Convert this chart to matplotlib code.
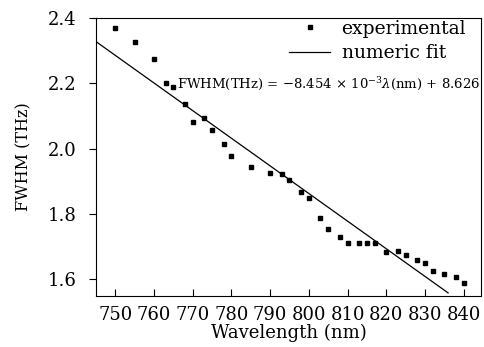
import numpy as np
from matplotlib import pyplot as plt

plt.rcParams['font.family'] = 'DejaVu Serif'
plt.rcParams['mathtext.fontset'] = 'dejavuserif'

wavelength = [750, 755, 760, 763, 765, 768, 770, 773, 775, 778, 780, 785,
              790, 793, 795, 798, 800, 803, 805, 808, 810, 813, 815, 817,
              820, 823, 825, 828, 830, 832, 835, 838, 840]
fwhm = [2.368, 2.327, 2.274, 2.200, 2.190, 2.136, 2.083, 2.093, 2.057, 2.014,
        1.979, 1.945, 1.927, 1.922, 1.903, 1.867, 1.850, 1.789, 1.754, 1.729,
        1.710, 1.710, 1.710, 1.710, 1.685, 1.687, 1.676, 1.659, 1.650, 1.625,
        1.616, 1.607, 1.590]

slope = -8.454e-3
intercept = 8.626
fit_range = [745, 836]

fig = plt.figure(figsize=(4.84, 3.47), dpi=100)
ax = fig.add_axes([96 / 484, 1 - 296 / 347, 385 / 484, 278 / 347])

ax.plot(wavelength, fwhm, linestyle='none', marker='s', markersize=3.5,
        color='black', label='experimental')
fit_x = np.array(fit_range)
ax.plot(fit_x, slope * fit_x + intercept, color='black', linewidth=0.9,
        label='numeric fit')

ax.set_xlim(745, 844.5)
ax.set_ylim(1.549, 2.4)
ax.set_xticks(range(750, 841, 10))
ax.set_yticks([1.6, 1.8, 2.0, 2.2, 2.4])
ax.tick_params(axis='x', direction='in', length=5, labelsize=13, pad=7)
ax.tick_params(axis='y', direction='out', length=5, labelsize=13, pad=9)
ax.set_xlabel('Wavelength (nm)', fontsize=13, labelpad=0)
ax.set_ylabel('FWHM (THz)', fontsize=11.5, labelpad=11)

ax.legend(loc='upper right', bbox_to_anchor=(0.966, 1.0), frameon=False,
          fontsize=13.5, handlelength=2.2, borderaxespad=0.0, borderpad=0.1,
          labelspacing=0.35, handletextpad=0.6)
ax.text(0.998, 0.765, r'FWHM(THz) = $-$8.454 $\times$ 10$^{-3}$$\lambda$(nm) + 8.626',
        transform=ax.transAxes, ha='right', va='center', fontsize=9.5)

fig.savefig('out.png', dpi=100)
